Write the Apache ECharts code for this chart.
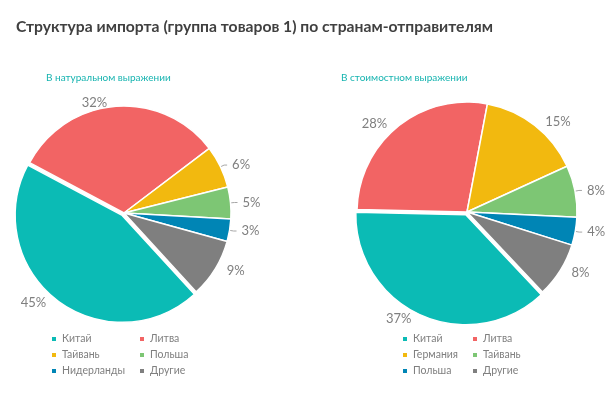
<!DOCTYPE html>
<html>
<head>
<meta charset="utf-8">
<script src="https://cdn.jsdelivr.net/npm/echarts@6/dist/echarts.min.js"></script>
<style>
  html, body { margin: 0; padding: 0; background: #fff; }
  #chart { width: 610px; height: 404px; }
</style>
</head>
<body>
<div id="chart"></div>
<script>
// data (shares, %)
const titleText = 'Структура импорта (группа товаров 1) по странам-отправителям'
const leftTitle = 'В натуральном выражении'
const rightTitle = 'В стоимостном выражении'

const leftNames = ['Китай', 'Литва', 'Тайвань', 'Польша', 'Нидерланды', 'Другие']
const leftValues = [44.6, 31.9, 6.4, 4.8, 3.4, 8.9]

const rightNames = ['Китай', 'Литва', 'Германия', 'Тайвань', 'Польша', 'Другие']
const rightValues = [37.4, 27.6, 15.2, 7.6, 4.1, 8.1]

// styling
const palette = ['#0BBBB5', '#F26464', '#F2B90F', '#7DC674', '#0085B5', '#7F7F7F']
const font = 'Lato'
const grey = '#7f7f7f'

function buildData(names, values, lineIdx) {
  return names.map(function(n, i) {
    return {
      name: n,
      value: values[i],
      selected: i === 0,
      itemStyle: { color: palette[i] },
      labelLine: { show: lineIdx.indexOf(i) >= 0 }
    }
  })
}

function legendCol(names, idx, left, top) {
  return {
    orient: 'vertical',
    left: left,
    top: top,
    padding: 0,
    icon: 'rect',
    itemWidth: 6,
    itemHeight: 6,
    itemGap: 4,
    selectedMode: false,
    textStyle: { color: grey, fontSize: 10.5, fontFamily: font, lineHeight: 12 },
    data: idx.map(function(i) {
      return { name: names[i], itemStyle: { color: palette[i] } }
    })
  }
}

function pieSeries(names, values, center, radius, startAngle, lineIdx) {
  return {
    type: 'pie',
    left: 0,
    top: 0,
    width: 800,
    height: 404,
    center: center,
    radius: radius,
    startAngle: startAngle,
    clockwise: true,
    selectedMode: 'single',
    selectedOffset: 3,
    percentPrecision: 0,
    animation: false,
    itemStyle: { borderColor: '#fff', borderWidth: 1.5 },
    label: {
      show: true,
      position: 'outside',
      formatter: '{d}%',
      color: grey,
      fontSize: 13,
      fontFamily: font,
      bleedMargin: 0
    },
    labelLine: {
      length: 4,
      length2: 3,
      lineStyle: { color: '#a6a6a6', width: 1 }
    },
    emphasis: { disabled: true },
    data: buildData(names, values, lineIdx)
  }
}

const chart = echarts.init(document.getElementById('chart'))
chart.setOption({
  animation: false,
  title: [
    {
      text: titleText,
      left: 16,
      top: 19,
      padding: 0,
      textStyle: { color: '#404040', fontSize: 15.7, fontWeight: 'bold', fontFamily: font }
    },
    {
      text: leftTitle,
      left: 46,
      top: 73,
      padding: 0,
      textStyle: { color: '#17b4b0', fontSize: 10, fontWeight: 'normal', fontFamily: font }
    },
    {
      text: rightTitle,
      left: 341,
      top: 73,
      padding: 0,
      textStyle: { color: '#17b4b0', fontSize: 10, fontWeight: 'normal', fontFamily: font }
    }
  ],
  legend: [
    legendCol(leftNames, [0, 2, 4], 50, 333),
    legendCol(leftNames, [1, 3, 5], 138, 333),
    legendCol(rightNames, [0, 2, 4], 401, 333),
    legendCol(rightNames, [1, 3, 5], 471, 333)
  ],
  series: [
    pieSeries(leftNames, leftValues, [124, 213], 107, 312.5, [2, 3, 4]),
    pieSeries(rightNames, rightValues, [467, 212], 110, 313.3, [3, 4])
  ]
})
</script>
</body>
</html>
